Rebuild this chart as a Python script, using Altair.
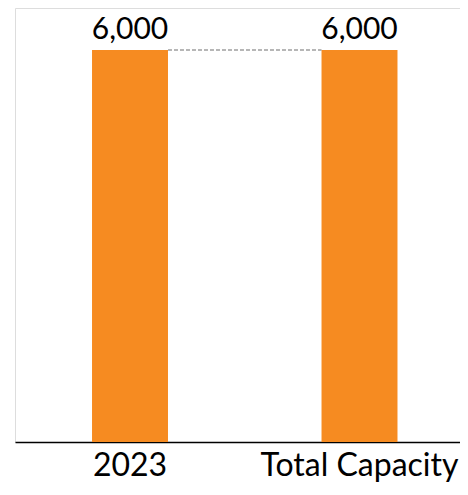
import altair as alt
import pandas as pd

categories = ["2023", "Total Capacity"]
values = [6000, 6000]
labels = ["6,000", "6,000"]

df = pd.DataFrame({"cat": categories, "value": values, "label": labels})
conn = pd.DataFrame({"start": [categories[0]], "end": [categories[1]], "value": [values[0]]})

xscale = alt.Scale(domain=categories, paddingInner=0.669, paddingOuter=0.304, align=0.552)
yscale = alt.Scale(domain=[0, 6643])

base = alt.Chart(df)

bars = base.mark_bar(color="#F68B21").encode(
    x=alt.X("cat:N", scale=xscale, sort=categories,
            axis=alt.Axis(title=None, labelAngle=0, ticks=False, tickSize=0,
                          domainColor="#000000", domainWidth=1.5,
                          labelFont="Lato", labelFontSize=32, labelColor="#000000",
                          labelBaseline="alphabetic", labelPadding=33, labelLimit=0)),
    y=alt.Y("value:Q", scale=yscale, axis=None),
)

text = base.mark_text(font="Lato", fontSize=30, color="#000000", baseline="alphabetic", dy=-11).encode(
    x=alt.X("cat:N", scale=xscale, sort=categories),
    y=alt.Y("value:Q", scale=yscale),
    text="label:N",
)

rule = alt.Chart(conn).mark_rule(color="#6E6E6E", strokeWidth=1.2, strokeDash=[4, 2]).encode(
    x=alt.X("start:N", scale=xscale, sort=categories, bandPosition=1),
    x2=alt.X2("end:N", bandPosition=0),
    y=alt.Y("value:Q", scale=yscale),
)

chart = alt.layer(bars, rule, text).properties(
    width=445, height=434,
    autosize=alt.AutoSizeParams(type="none"),
    padding={"left": 7, "top": 0, "right": 0, "bottom": 40},
).configure_view(stroke=None).configure(background="#ffffff")

chart.save("out.html", embed_options={"renderer": "svg", "actions": False})
